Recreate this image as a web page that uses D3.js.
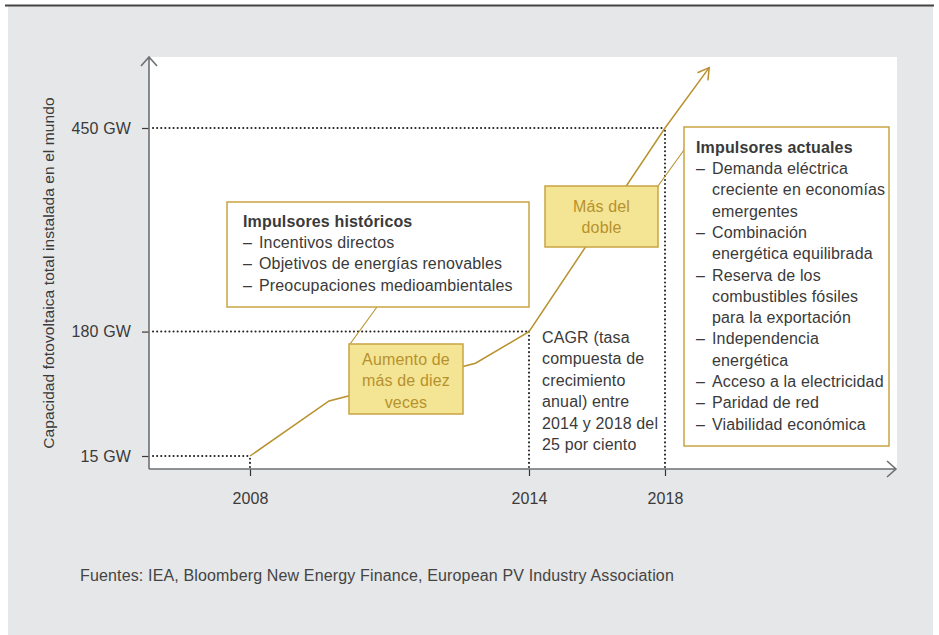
<!DOCTYPE html>
<html>
<head>
<meta charset="utf-8">
<script src="https://cdn.jsdelivr.net/npm/d3@7"></script>
<style>
  body { margin: 0; background: #fff; }
  svg { display: block; font-family: "Liberation Sans", Arial, sans-serif; letter-spacing: 0.15px; }
</style>
</head>
<body>
<div id="chart"></div>
<script>
// data
const yearTicks = [2008, 2014, 2018]
const capacityTicks = [15, 180, 450]
const capacityLabels = ['15 GW', '180 GW', '450 GW']
const growthYears = [2008, 2009.7, 2012.85, 2014, 2018, 2019.3]
const growthGW = [15, 88, 138, 180, 450, 530]

const historicDrivers = ['Incentivos directos', 'Objetivos de energías renovables', 'Preocupaciones medioambientales']
const currentDrivers = [
  ['Demanda eléctrica', 'creciente en economías', 'emergentes'],
  ['Combinación', 'energética equilibrada'],
  ['Reserva de los', 'combustibles fósiles', 'para la exportación'],
  ['Independencia', 'energética'],
  ['Acceso a la electricidad'],
  ['Paridad de red'],
  ['Viabilidad económica']
]
const cagrLines = ['CAGR (tasa', 'compuesta de', 'crecimiento', 'anual) entre', '2014 y 2018 del', '25 por ciento']

const W = 939, H = 635
const PLOT = { LEFT: 149, TOP: 57, RIGHT: 897, BOTTOM: 469 }
const GOLD = '#b8912e', BOX_STROKE = '#c9a443', BOX_FILL = '#f3e593', TEXT = '#3a3a3a', AXIS = '#6f7073'
const FS = 16

const svg = d3.select('#chart').append('svg')
  .attr('width', W).attr('height', H)

// background
svg.append('rect').attr('x', 8).attr('y', 6).attr('width', 925).attr('height', H - 6).attr('fill', '#e6e7e8')
svg.append('line').attr('x1', 5).attr('x2', 934).attr('y1', 5.5).attr('y2', 5.5)
  .attr('stroke', '#444').attr('stroke-width', 2)
svg.append('rect').attr('x', PLOT.LEFT).attr('y', PLOT.TOP)
  .attr('width', PLOT.RIGHT - PLOT.LEFT).attr('height', PLOT.BOTTOM - PLOT.TOP).attr('fill', '#fff')

const x = d3.scaleLinear().domain(yearTicks).range([250, 529, 665])
const y = d3.scaleLinear().domain([15, 450]).range([456, 128])

// dotted guides
const guides = svg.append('g').attr('stroke', '#222').attr('stroke-width', 2)
  .attr('stroke-dasharray', '0.1 4').attr('stroke-linecap', 'round').attr('fill', 'none')
yearTicks.forEach((yr, i) => {
  guides.append('line').attr('x1', PLOT.LEFT + 4).attr('x2', x(yr))
    .attr('y1', y(capacityTicks[i])).attr('y2', y(capacityTicks[i]))
  guides.append('line').attr('x1', x(yr)).attr('x2', x(yr))
    .attr('y1', PLOT.BOTTOM - 2).attr('y2', y(capacityTicks[i]))
})

// axes
const yAxis = d3.axisLeft(y).tickValues(capacityTicks)
  .tickFormat((d, i) => capacityLabels[i]).tickSize(7).tickPadding(11)
const xAxis = d3.axisBottom(x).tickValues(yearTicks)
  .tickFormat(d3.format('d')).tickSize(7).tickPadding(17)

const yG = svg.append('g').attr('transform', `translate(${PLOT.LEFT},0)`).call(yAxis)
const xG = svg.append('g').attr('transform', `translate(0,${PLOT.BOTTOM})`).call(xAxis)
;[yG, xG].forEach(g => {
  g.attr('font-size', FS).attr('font-family', null)
  g.select('.domain').remove()
  g.selectAll('.tick line').attr('stroke', TEXT).attr('stroke-width', 1.2)
  g.selectAll('.tick text').attr('fill', TEXT)
})
xG.selectAll('.tick line').attr('stroke', '#333')

// axis lines with open arrows
const axisG = svg.append('g').attr('stroke', AXIS).attr('stroke-width', 1.6).attr('fill', 'none')
axisG.append('path').attr('d', `M${PLOT.LEFT},${PLOT.BOTTOM}V${PLOT.TOP}M${PLOT.LEFT - 8},${PLOT.TOP + 9}L${PLOT.LEFT},${PLOT.TOP}L${PLOT.LEFT + 8},${PLOT.TOP + 9}`)
axisG.append('path').attr('d', `M${PLOT.LEFT},${PLOT.BOTTOM}H${PLOT.RIGHT - 1}M${PLOT.RIGHT - 10},${PLOT.BOTTOM - 8}L${PLOT.RIGHT - 1},${PLOT.BOTTOM}L${PLOT.RIGHT - 10},${PLOT.BOTTOM + 8}`)

// growth line
svg.append('defs').append('marker')
  .attr('id', 'arrow').attr('viewBox', '-12 -8 14 16')
  .attr('markerWidth', 14).attr('markerHeight', 16).attr('markerUnits', 'userSpaceOnUse')
  .attr('orient', 'auto').attr('refX', 0).attr('refY', 0)
  .append('path').attr('d', 'M-11,-6.5L0,0L-11,6.5').attr('fill', 'none')
  .attr('stroke', GOLD).attr('stroke-width', 1.5)

const line = d3.line().x(d => x(d[0])).y(d => y(d[1]))
svg.append('path').datum(growthYears.map((yr, i) => [yr, growthGW[i]]))
  .attr('d', line).attr('fill', 'none').attr('stroke', GOLD).attr('stroke-width', 1.5)
  .attr('marker-end', 'url(#arrow)')

// connectors
svg.append('path').attr('d', 'M377,307L350,344M658,186L684,150')
  .attr('stroke', GOLD).attr('stroke-width', 1.1).attr('fill', 'none')

function box(x0, y0, w, h, fill) {
  svg.append('rect').attr('x', x0).attr('y', y0).attr('width', w).attr('height', h)
    .attr('fill', fill).attr('stroke', BOX_STROKE).attr('stroke-width', 1.5)
}

// historic drivers
box(227, 202, 302, 105, '#fff')
const hist = svg.append('g').attr('font-size', FS).attr('fill', TEXT)
hist.append('text').attr('x', 243).attr('y', 227).attr('font-weight', 'bold').text('Impulsores históricos')
historicDrivers.forEach((t, i) => {
  hist.append('text').attr('x', 243).attr('y', 248 + i * 21.3).text('–')
  hist.append('text').attr('x', 259).attr('y', 248 + i * 21.3).text(t)
})

// yellow call-outs
function callout(x0, y0, w, h, lines, y1) {
  box(x0, y0, w, h, BOX_FILL)
  lines.forEach((t, i) => {
    svg.append('text').attr('x', x0 + w / 2).attr('y', y1 + i * 21.3)
      .attr('text-anchor', 'middle').attr('font-size', FS).attr('fill', GOLD).text(t)
  })
}
callout(349, 344, 114, 70, ['Aumento de', 'más de diez', 'veces'], 365)
callout(545, 186, 113, 61, ['Más del', 'doble'], 212)

// current drivers
box(684, 127, 205, 319, '#fff')
const cur = svg.append('g').attr('font-size', FS).attr('fill', TEXT)
cur.append('text').attr('x', 696).attr('y', 153).attr('font-weight', 'bold').text('Impulsores actuales')
let row = 0
currentDrivers.forEach(item => {
  item.forEach((t, j) => {
    const yy = 174 + row * 21.3
    if (j === 0) cur.append('text').attr('x', 696).attr('y', yy).text('–')
    cur.append('text').attr('x', 712).attr('y', yy).text(t)
    row++
  })
})

// CAGR note
const cagr = svg.append('g').attr('font-size', FS).attr('fill', TEXT)
cagrLines.forEach((t, i) => cagr.append('text').attr('x', 542).attr('y', 343 + i * 21.4).text(t))

// y title
svg.append('text').attr('transform', 'translate(54,273) rotate(-90)')
  .attr('text-anchor', 'middle').attr('font-size', 15.5).attr('fill', TEXT)
  .style('letter-spacing', '0.1px')
  .text('Capacidad fotovoltaica total instalada en el mundo')

// source
svg.append('text').attr('x', 80).attr('y', 581).attr('font-size', FS).attr('fill', '#444')
  .text('Fuentes: IEA, Bloomberg New Energy Finance, European PV Industry Association')
</script>
</body>
</html>
